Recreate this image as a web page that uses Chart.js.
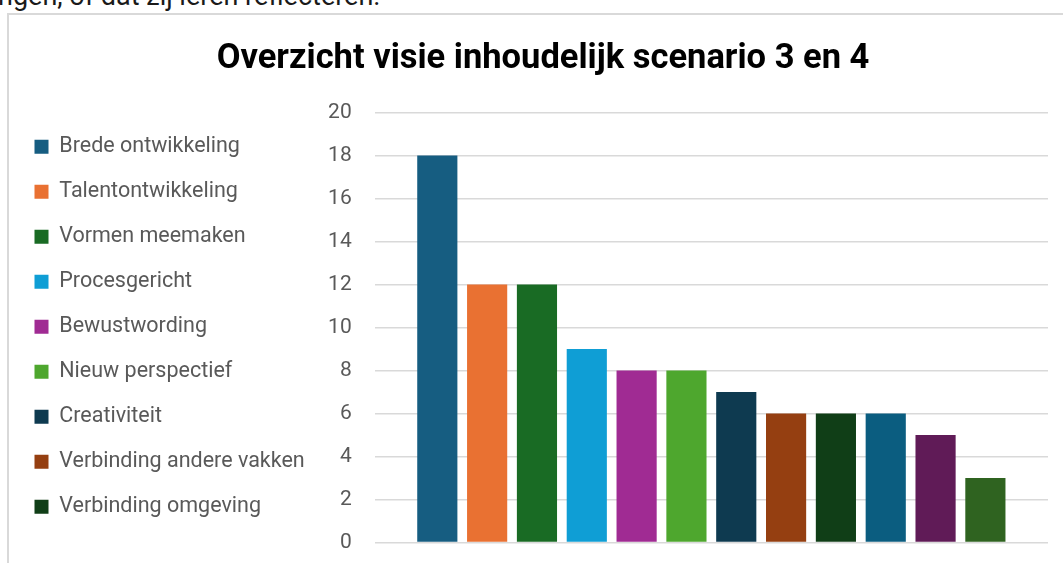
<!DOCTYPE html>
<html>
<head>
<meta charset="utf-8">
<script src="https://cdn.jsdelivr.net/npm/chart.js@4/dist/chart.umd.min.js"></script>
<style>
  html, body { margin: 0; padding: 0; background: #fff; overflow: hidden; }
  #doc-text {
    position: absolute; left: -2px; top: -17px;
    font: 27px/27px Roboto, sans-serif; color: #1a1a1a; white-space: nowrap;
  }
  #frame {
    position: absolute; left: 7px; top: 13px; width: 1100px; height: 600px;
    border: 2px solid #d9d9d9;
  }
  #chart { position: absolute; left: 0; top: 0; }
</style>
</head>
<body>
<div id="doc-text">ngen, of dat zij leren reflecteren.</div>
<div id="frame"></div>
<canvas id="chart" width="1090" height="578"></canvas>
<script>
const chartTitle = 'Overzicht visie inhoudelijk scenario 3 en 4'

// each bar is its own series (one category), as in the source chart
const seriesNames = [
  'Brede ontwikkeling',
  'Talentontwikkeling',
  'Vormen meemaken',
  'Procesgericht',
  'Bewustwording',
  'Nieuw perspectief',
  'Creativiteit',
  'Verbinding andere vakken',
  'Verbinding omgeving',
  'Reeks 10',
  'Reeks 11',
  'Reeks 12',
]
const seriesValues = [18, 12, 12, 9, 8, 8, 7, 6, 6, 6, 5, 3]
const seriesColors = [
  '#165d81', '#e97132', '#196b24', '#0f9ed5', '#a02b93', '#4ea72e',
  '#0e3a50', '#953f11', '#103e17', '#0b5d80', '#601b57', '#2f6320',
]
const yTicks = [0, 2, 4, 6, 8, 10, 12, 14, 16, 18, 20]
const visibleLegendItems = 9

const datasets = seriesNames.map((name, i) => ({
  label: name,
  data: [seriesValues[i]],
  backgroundColor: seriesColors[i],
  borderWidth: 0,
  categoryPercentage: 0.888,
  barPercentage: 0.806,
}))

function draw() {
  new Chart(document.getElementById('chart'), {
    type: 'bar',
    data: {
      labels: [''],
      datasets: datasets,
    },
    options: {
      responsive: false,
      animation: false,
      layout: {
        padding: {left: 11, right: 15, top: 0, bottom: 8},
      },
      plugins: {
        title: {
          display: true,
          text: chartTitle,
          color: '#000',
          font: {family: 'Roboto', size: 34.5, weight: 'bold'},
          padding: {top: 39, bottom: 32},
        },
        legend: {
          position: 'left',
          align: 'start',
          fullSize: false,
          maxWidth: 309,
          labels: {
            filter: (item) => item.datasetIndex < visibleLegendItems,
            font: {family: 'Roboto', size: 21.5},
            color: '#595959',
            boxWidth: 14,
            boxHeight: 14,
            padding: 23.5,
          },
        },
        tooltip: {enabled: false},
      },
      scales: {
        x: {
          grid: {display: false},
          border: {display: false},
          ticks: {display: false},
          afterFit: (scale) => { scale.height = 0 },
        },
        y: {
          min: 0,
          max: 20,
          afterBuildTicks: (scale) => {
            scale.ticks = yTicks.map(v => ({value: v}))
          },
          afterFit: (scale) => { scale.width = 60 },
          grid: {color: '#d9d9d9', lineWidth: 1.5, drawTicks: false},
          border: {display: false},
          ticks: {
            color: '#595959',
            font: {family: 'Roboto', size: 21},
            padding: 23,
          },
        },
        // empty right-hand strip so the title centres like the source frame
        spacer: {
          position: 'right',
          grid: {display: false},
          border: {display: false},
          ticks: {display: false},
          afterFit: (scale) => { scale.width = 27 },
        },
      },
    },
  })
}

document.fonts.load('21px Roboto').then(() => document.fonts.load('bold 34px Roboto')).then(draw, draw)
</script>
</body>
</html>
